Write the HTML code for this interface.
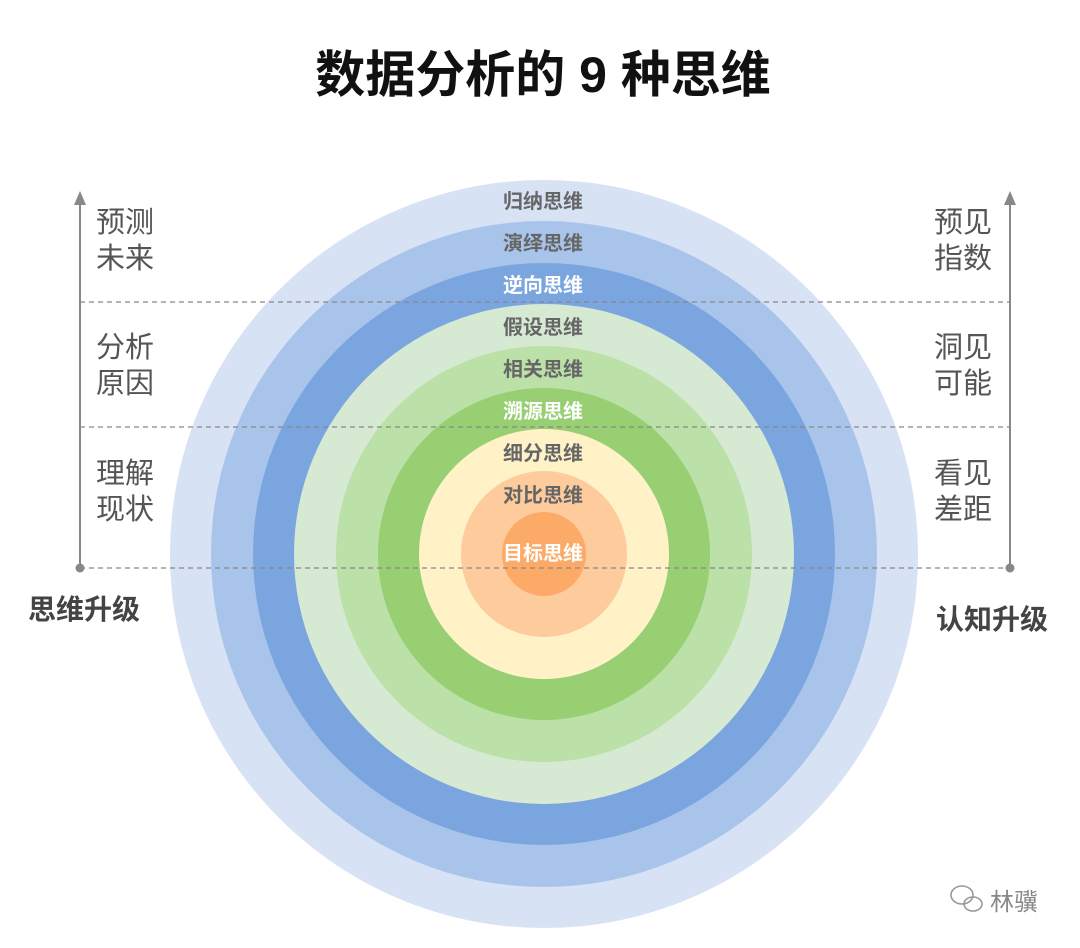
<!DOCTYPE html>
<html><head><meta charset="utf-8"><style>
html,body{margin:0;padding:0;background:#fff;}
svg{display:block}
</style></head><body>
<svg width="1080" height="948" viewBox="0 0 1080 948" xmlns="http://www.w3.org/2000/svg" font-family="'Liberation Sans','Noto Sans CJK SC',sans-serif">
<rect width="1080" height="948" fill="#fff"/>
<text x="543" y="92" text-anchor="middle" font-size="50" font-weight="bold" fill="#111">数据分析的 9 种思维</text>
<g>
<circle cx="544" cy="554" r="374" fill="#d7e2f4"/>
<circle cx="544" cy="554" r="333" fill="#a9c4ea"/>
<circle cx="544" cy="554" r="291" fill="#7ba5df"/>
<circle cx="544" cy="554" r="250" fill="#d6e9d3"/>
<circle cx="544" cy="554" r="208" fill="#bbe0a8"/>
<circle cx="544" cy="554" r="166" fill="#97cf72"/>
<circle cx="544" cy="554" r="125" fill="#fff2c7"/>
<circle cx="544" cy="554" r="83" fill="#fdcb9c"/>
<circle cx="544" cy="554" r="42" fill="#fbab67"/>
</g>
<g font-size="20" font-weight="bold" text-anchor="middle" fill="#666">
<text x="543" y="208">归纳思维</text>
<text x="543" y="250">演绎思维</text>
<text x="543" y="292" fill="#fff">逆向思维</text>
<text x="543" y="334">假设思维</text>
<text x="543" y="376">相关思维</text>
<text x="543" y="418" fill="#fff">溯源思维</text>
<text x="543" y="460">细分思维</text>
<text x="543" y="502">对比思维</text>
<text x="543" y="560" fill="#fff">目标思维</text>
</g>
<g stroke="#888" stroke-width="1.3" stroke-dasharray="5,4">
<line x1="80" y1="302" x2="1010" y2="302"/>
<line x1="80" y1="427" x2="1010" y2="427"/>
<line x1="80" y1="568" x2="1010" y2="568"/>
</g>
<g stroke="#888" stroke-width="2">
<line x1="80" y1="200" x2="80" y2="568"/>
<line x1="1010" y1="200" x2="1010" y2="568"/>
</g>
<g fill="#888">
<polygon points="80,191 74,205 86,205"/>
<polygon points="1010,191 1004,205 1016,205"/>
<circle cx="80" cy="568" r="4.5"/>
<circle cx="1010" cy="568" r="4.5"/>
</g>
<g font-size="29" fill="#555">
<text x="96" y="232">预测</text><text x="96" y="268">未来</text>
<text x="96" y="357">分析</text><text x="96" y="393">原因</text>
<text x="96" y="483">理解</text><text x="96" y="519">现状</text>
<text x="934" y="232">预见</text><text x="934" y="268">指数</text>
<text x="934" y="357">洞见</text><text x="934" y="393">可能</text>
<text x="934" y="483">看见</text><text x="934" y="519">差距</text>
</g>
<g font-size="28" font-weight="bold" fill="#444">
<text x="28" y="619">思维升级</text>
<text x="936" y="629">认知升级</text>
</g>
<g fill="none" stroke="#999" stroke-width="1.6">
<ellipse cx="962" cy="895" rx="11" ry="9"/>
<ellipse cx="973" cy="904" rx="9" ry="7"/>
</g>
<text x="990" y="910" font-size="24" fill="#888">林骥</text>
</svg>
</body></html>
